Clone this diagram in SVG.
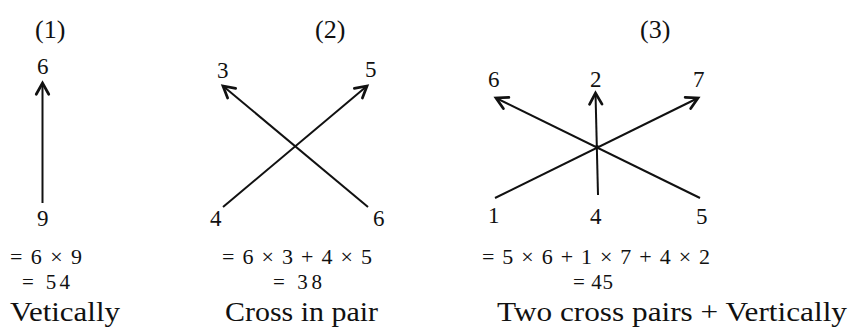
<svg xmlns="http://www.w3.org/2000/svg" width="849" height="327" viewBox="0 0 849 327" font-family="'Liberation Serif','Times New Roman',serif">
<style>
text{font-family:"Liberation Serif","Times New Roman","DejaVu Serif",serif;fill:#111}
.h{font-size:26px}
.n{font-size:23px}
.e{font-size:22px}
.r{font-size:21px}
.t{font-size:28px}
.c line{stroke:#111;stroke-width:2;marker-end:url(#ah)}
</style>
<defs>
<marker id="ah" markerUnits="userSpaceOnUse" markerWidth="20" markerHeight="20" viewBox="-12 -8 14 16" refX="0" refY="0" orient="auto">
<path d="M-9,-5 L0,0 L-9,5" fill="none" stroke="#111" stroke-width="2.2" stroke-linecap="round" stroke-linejoin="miter"/>
</marker>
</defs>
<rect width="849" height="327" fill="#fff"/>
<g id="connectors" class="c">
<line x1="42.5" y1="203" x2="42.5" y2="83"/>
<line x1="223" y1="207" x2="367" y2="86"/>
<line x1="368" y1="207" x2="223" y2="86"/>
<line x1="495" y1="198" x2="698" y2="98"/>
<line x1="700" y1="198" x2="496" y2="98"/>
<line x1="598" y1="195" x2="595.5" y2="93"/>
<circle cx="597" cy="147" r="2" fill="#111"/>
</g>
<g id="panel1">
<text class="h" x="35" y="38">(1)</text>
<g id="p1-6"><text class="n" x="37" y="74">6</text></g>
<g id="p1-9"><text class="n" x="37" y="226">9</text></g>
<text class="e" x="10" y="264" textLength="72" lengthAdjust="spacing">= 6 × 9</text>
<text class="r" x="22" y="289" textLength="48" lengthAdjust="spacing">= 54</text>
<text class="t" x="10" y="321" textLength="110" lengthAdjust="spacingAndGlyphs">Vetically</text>
</g>
<g id="panel2">
<text class="h" x="315" y="38">(2)</text>
<g id="p2-3"><text class="n" x="217" y="78">3</text></g>
<g id="p2-5"><text class="n" x="365" y="77">5</text></g>
<g id="p2-4"><text class="n" x="210" y="226">4</text></g>
<g id="p2-6"><text class="n" x="373" y="226">6</text></g>
<text class="e" x="222" y="264" textLength="150" lengthAdjust="spacing">= 6 × 3 + 4 × 5</text>
<text class="r" x="273" y="289" textLength="49" lengthAdjust="spacing">= 38</text>
<text class="t" x="225" y="321" textLength="153" lengthAdjust="spacingAndGlyphs">Cross in pair</text>
</g>
<g id="panel3">
<text class="h" x="640" y="38">(3)</text>
<g id="p3-6"><text class="n" x="488" y="87">6</text></g>
<g id="p3-2"><text class="n" x="590" y="87">2</text></g>
<g id="p3-7"><text class="n" x="693" y="87">7</text></g>
<g id="p3-1"><text class="n" x="488" y="223">1</text></g>
<g id="p3-4"><text class="n" x="590" y="224">4</text></g>
<g id="p3-5"><text class="n" x="696" y="224">5</text></g>
<text class="e" x="482" y="264" textLength="228" lengthAdjust="spacing">= 5 × 6 + 1 × 7 + 4 × 2</text>
<text class="r" x="573" y="289" textLength="40" lengthAdjust="spacing">= 45</text>
<text class="t" x="497" y="321" textLength="350" lengthAdjust="spacingAndGlyphs">Two cross pairs + Vertically</text>
</g>
</svg>
